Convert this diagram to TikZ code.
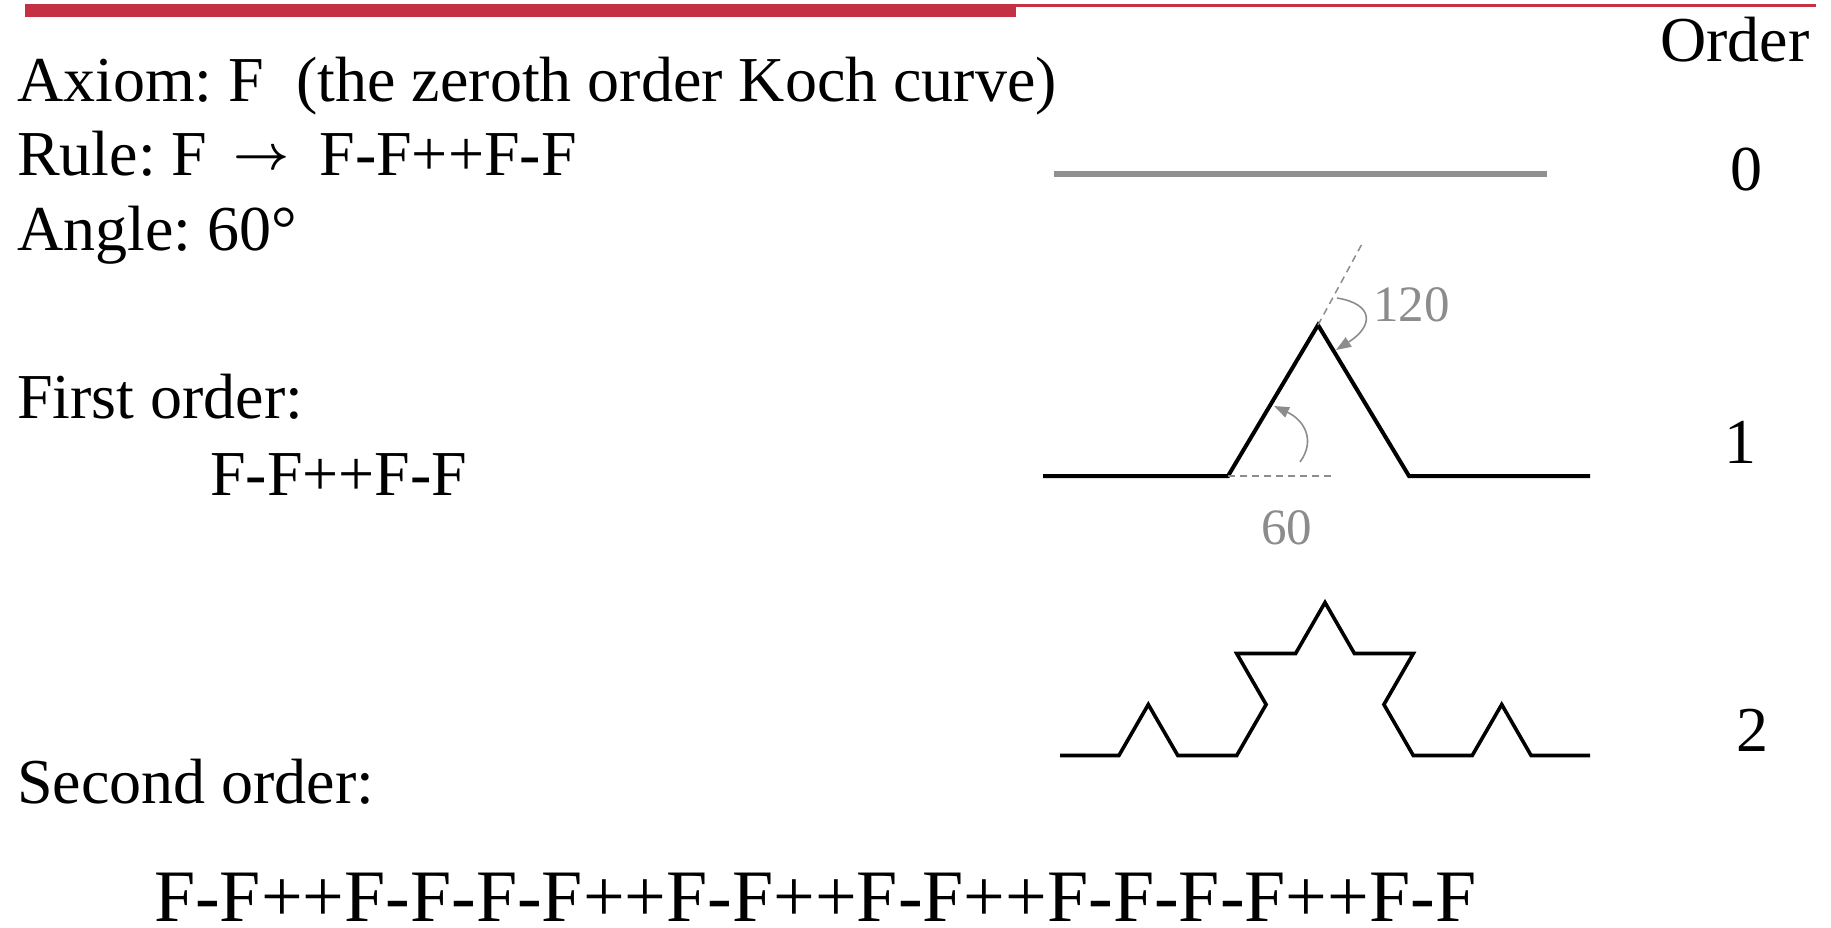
\documentclass[tikz,border=0pt]{standalone}
\usepackage{graphicx}
\usepackage{fontspec}
\setmainfont{Liberation Serif}
\usetikzlibrary{arrows.meta}
\definecolor{barred}{RGB}{196,48,68}
\definecolor{annot}{RGB}{140,140,140}
\definecolor{zeroline}{RGB}{144,144,144}
\frenchspacing
\newcommand{\rulearrow}{\raisebox{6pt}{\resizebox{56pt}{!}{\boldmath$\rightarrow$}}}
\begin{document}
\begin{tikzpicture}[x=1pt,y=-1pt,
  txt/.style={inner sep=0pt, font=\fontsize{64}{72}\selectfont, anchor=base west},
  bigtxt/.style={inner sep=0pt, text depth=0pt, font=\fontsize{74}{84}\selectfont, anchor=base west},
  num/.style={inner sep=0pt, font=\fontsize{64}{72}\selectfont, anchor=base},
  anntxt/.style={inner sep=0pt, font=\fontsize{51}{60}\selectfont, anchor=base west, text=annot},
  kline/.style={line width=4pt, line join=miter, black},
  kline2/.style={line width=3.6pt, line join=miter, black},
  anndash/.style={annot, line width=1.5pt, dash pattern=on 7pt off 5pt},
  annarrow/.style={annot, line width=1.6pt, -{Triangle[length=15pt,width=11pt]}}]
\useasboundingbox (0,0) rectangle (1831,927);
% top bar
\fill[barred] (24.5,4) rectangle (1016,16.5);
\fill[barred] (1016,4) rectangle (1816,6.7);
% texts
\node[txt] (order) at (1660,61) {Order};
\node[txt] (axiom) at (17,101) {Axiom: F \ (the zeroth order Koch curve)};
\node[txt] (rule) at (17,175) {Rule: F\hspace{26pt}\rulearrow\hspace{30pt}F-F++F-F};
\node[txt] (angle) at (17,250) {Angle: 60°};
\node[txt] (first) at (17,418) {First order:};
\node[txt] (firststr) at (210,495) {F-F++F-F};
\node[txt] (second) at (17,803) {Second order:};
\node[bigtxt] (secondstr) at (154,921) {F-F++F-F-F-F++F-F++F-F++F-F-F-F++F-F};
\node[num] (n0) at (1746,190) {0};
\node[num] (n1) at (1740,463) {1};
\node[num] (n2) at (1752,751) {2};
% order 0
\draw[zeroline, line width=6pt] (1054,174) -- (1547,174);
% order 1
\coordinate (a0) at (1043,476);
\coordinate (a1) at (1228,476);
\coordinate (a2) at (1318,325);
\coordinate (a3) at (1409,476);
\coordinate (a4) at (1590,476);
\draw[kline] (a0) -- (a1) -- (a2) -- (a3) -- (a4);
\coordinate (d1) at (1363,242);
\coordinate (d2) at (1335,476);
\draw[anndash] (a2) -- (d1);
\draw[anndash] (a1) -- (d2);
\coordinate (r1) at (1337,298);
\coordinate (r2) at (1336,350);
\draw[annarrow] (r1) .. controls (1374,304) and (1374,326) .. (r2);
\coordinate (s1) at (1300,462);
\coordinate (s2) at (1274,406);
\draw[annarrow] (s1) .. controls (1316,440) and (1304,420) .. (s2);
\node[anntxt] (l120) at (1373,321) {120};
\node[anntxt] (l60) at (1261,544) {60};
% order 2
\draw[kline2] (1060,755.5) -- (1118.9,755.5) -- (1148.3,704.5) -- (1177.8,755.5)
  -- (1236.7,755.5) -- (1266.1,704.5) -- (1236.7,653.5) -- (1295.6,653.5)
  -- (1325,602.5) -- (1354.4,653.5) -- (1413.3,653.5) -- (1383.9,704.5)
  -- (1413.3,755.5) -- (1472.2,755.5) -- (1501.7,704.5) -- (1531.1,755.5)
  -- (1590,755.5);
\end{tikzpicture}
\end{document}
